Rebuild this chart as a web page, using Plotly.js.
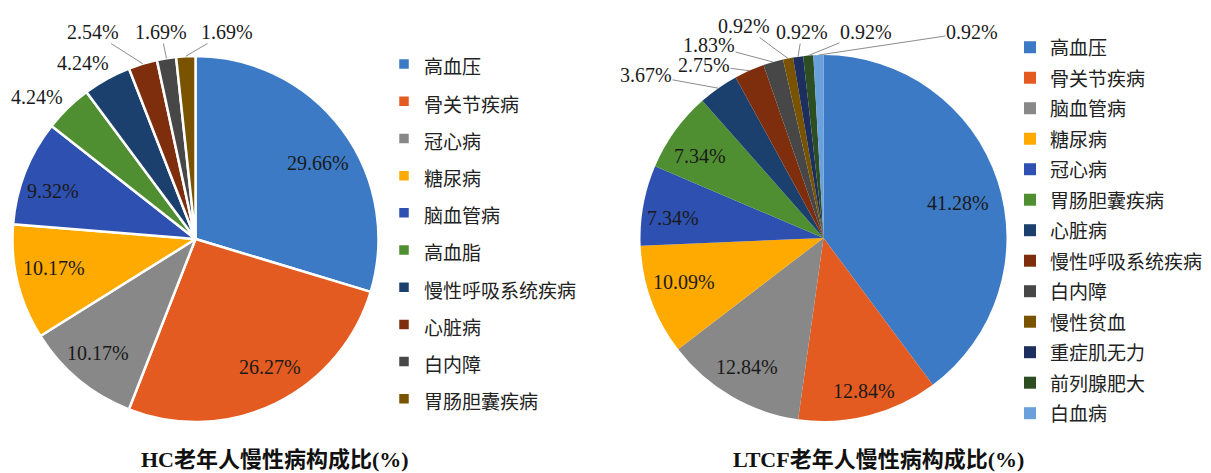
<!DOCTYPE html>
<html><head><meta charset="utf-8">
<script src="https://cdn.plot.ly/plotly-3.0.1.min.js"></script>
<style>html,body{margin:0;padding:0;background:#fff}#chart{width:1211px;height:473px}</style>
</head><body><div id="chart"></div>
<script>
// ---------- data ----------
const hcCategories = ['高血压','骨关节疾病','冠心病','糖尿病','脑血管病','高血脂','慢性呼吸系统疾病','心脏病','白内障','胃肠胆囊疾病'];
const hcValues = [29.66, 26.27, 10.17, 10.17, 9.32, 4.24, 4.24, 2.54, 1.69, 1.69];
const ltcfCategories = ['高血压','骨关节疾病','脑血管病','糖尿病','冠心病','胃肠胆囊疾病','心脏病','慢性呼吸系统疾病','白内障','慢性贫血','重症肌无力','前列腺肥大','白血病'];
const ltcfValues = [41.28, 12.84, 12.84, 10.09, 7.34, 7.34, 3.67, 2.75, 1.83, 0.92, 0.92, 0.92, 0.92];
const hcTitle = 'HC老年人慢性病构成比(%)';
const ltcfTitle = 'LTCF老年人慢性病构成比(%)';

// ---------- style ----------
const hcColors = ['#3d7ac5','#e35b21','#888888','#ffaa00','#2e50b0','#4f8f31','#1b406d','#7e2e0d','#474747','#7a5300'];
const ltcfColors = ['#3d7ac5','#e35b21','#888888','#ffaa00','#2e50b0','#4f8f31','#1b406d','#7e2e0d','#474747','#7a5300','#1d2f5e','#2d4d22','#6aa0dc'];

const W = 1211, H = 473;
const geo = {
  hc:   {cx:195.5, cy:239, r:183, legendX:384, legendTop:40.5, legendFs:26.3, span:'font-size:19px'},
  ltcf: {cx:823.5, cy:238, r:183, legendX:1010, legendTop:27, legendFs:21.15, span:'font-size:19px;'}
};
// label text centres (px), one per slice, in slice order; third item: draw leader line
const hcLabelPos = [[318,163,false],[270,367,false],[97.5,353,false],[54,268,false],[53,191,false],
  [37,97,false],[83,63,false],[93,32,true],[161,32,true],[227,32,true]];
const ltcfLabelPos = [[958,203,false],[864,391,false],[747,367,false],[684,282,false],[673,218,false],[699.5,156,false],
  [646,75,true],[704,65,true],[709,45,true],[744,26,true],[802,32,true],[866,32,true],[972,32,true]];

const FONT_SERIF = '"Liberation Serif","Times New Roman",serif';
const FONT_CJK = '"Noto Sans CJK SC","Noto Sans",sans-serif';

function domainOf(g){
  return {x:[(g.cx-g.r)/W,(g.cx+g.r)/W], y:[(H-g.cy-g.r)/H,(H-g.cy+g.r)/H]};
}
function pctText(v){ return v.toFixed(2)+'%'; }

function makePie(cats, vals, colors, g, legendId, lineW){
  return {
    type:'pie', labels: cats.map(c=>'<span style="'+g.span+'">'+c+'</span>'),
    values: vals, sort:false, direction:'clockwise', rotation:0,
    domain: domainOf(g),
    marker:{colors:colors, line:{color:'#ffffff', width:lineW}},
    textinfo:'none',
    hoverinfo:'label+value', legend: legendId, showlegend:true
  };
}

function labelAnns(vals, g, pos){
  const total = vals.reduce((a,b)=>a+b,0);
  const anns = [];
  let cum = 0;
  vals.forEach((v,i)=>{
    const mid = (cum + v/2)/total*2*Math.PI;
    cum += v;
    const p = pos[i];
    const tx = g.cx + g.r*Math.sin(mid), ty = g.cy - g.r*Math.cos(mid);
    const base = {xref:'paper', yref:'paper', text:pctText(v),
      font:{family:FONT_SERIF, size:20, color:'#1a1a1a'}, borderpad:0};
    if(p[2]){
      anns.push(Object.assign(base,{x:tx/W, y:1-ty/H, showarrow:true, arrowhead:0,
        arrowwidth:1, arrowcolor:'#8c8c8c', ax:p[0]-tx, ay:p[1]-ty, standoff:0}));
    } else {
      anns.push(Object.assign(base,{x:p[0]/W, y:1-p[1]/H, showarrow:false, xanchor:'center', yanchor:'middle'}));
    }
  });
  return anns;
}

const traces = [
  makePie(hcCategories, hcValues, hcColors, geo.hc, 'legend', 2.5),
  makePie(ltcfCategories, ltcfValues, ltcfColors, geo.ltcf, 'legend2', 0)
];

function legendOf(g){
  return {x:g.legendX/W, xanchor:'left', y:1-g.legendTop/H, yanchor:'top',
    font:{family:FONT_CJK, size:g.legendFs, color:'#222'}, bgcolor:'rgba(0,0,0,0)', borderwidth:0};
}

const titleAnn = (t,x)=>({xref:'paper',yref:'paper',x:x/W,y:1-459/H,xanchor:'center',yanchor:'middle',
  text:'<b>'+t+'</b>',showarrow:false,font:{family:FONT_SERIF+','+FONT_CJK,size:22,color:'#111'}});

const layout = {
  width:W, height:H, margin:{l:0,r:0,t:0,b:0},
  paper_bgcolor:'#fff', plot_bgcolor:'#fff',
  legend: legendOf(geo.hc), legend2: legendOf(geo.ltcf),
  annotations: [].concat(labelAnns(hcValues, geo.hc, hcLabelPos), labelAnns(ltcfValues, geo.ltcf, ltcfLabelPos),
    [titleAnn(hcTitle,275), titleAnn(ltcfTitle,878)])
};
Plotly.newPlot('chart', traces, layout, {displayModeBar:false, staticPlot:true});
</script></body></html>
